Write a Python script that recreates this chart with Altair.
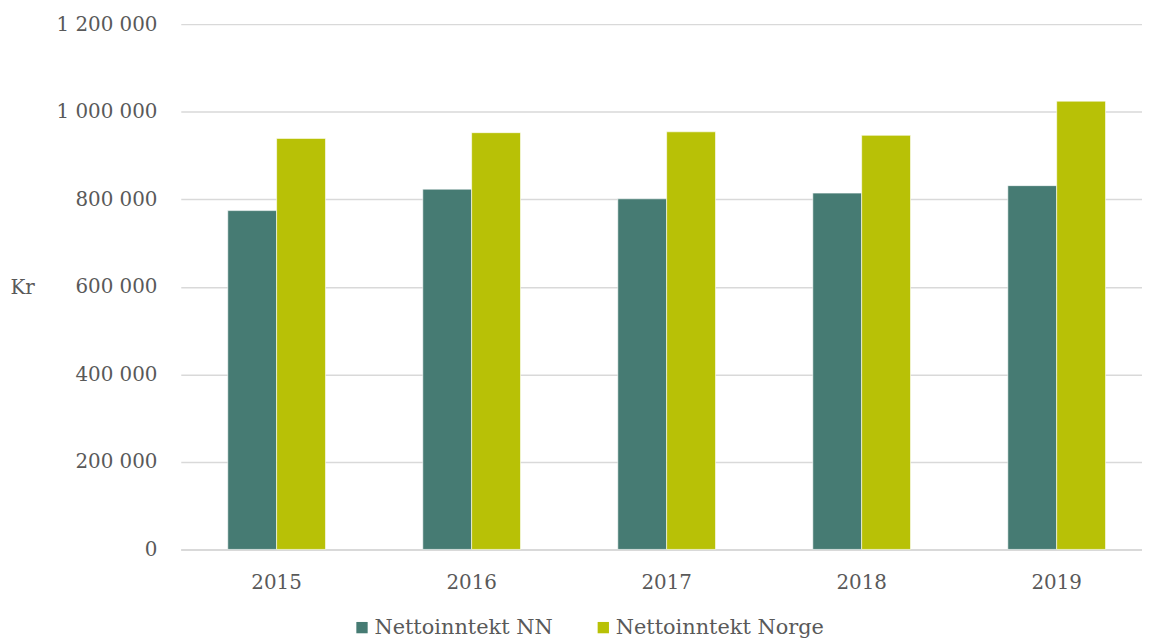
import altair as alt
import pandas as pd

years = ["2015", "2016", "2017", "2018", "2019"]
series = ["Nettoinntekt NN", "Nettoinntekt Norge"]
nn_values = [774000, 823000, 801000, 814000, 831000]
norge_values = [939000, 952000, 954000, 946000, 1024000]
colors = ["#467B73", "#B8C106"]

rows = []
for i, y in enumerate(years):
    rows.append({"year": y, "series": series[0], "value": nn_values[i]})
    rows.append({"year": y, "series": series[1], "value": norge_values[i]})
df = pd.DataFrame(rows)

FONT = "DejaVu Serif"
GRAY = "#595959"

chart = alt.Chart(df).mark_bar(stroke="white", strokeWidth=0.6).encode(
    x=alt.X("year:N", sort=years,
            scale=alt.Scale(paddingInner=0.499, paddingOuter=0.214, align=0.563),
            axis=alt.Axis(title=None, labelAngle=0, ticks=False, domain=True,
                          domainColor="#D9D9D9", domainWidth=2,
                          labelFont=FONT, labelFontSize=20, labelColor=GRAY,
                          labelPadding=23)),
    xOffset=alt.XOffset("series:N", sort=series),
    y=alt.Y("value:Q",
            scale=alt.Scale(domain=[0, 1200000], nice=False),
            axis=alt.Axis(values=[0, 200000, 400000, 600000, 800000, 1000000, 1200000],
                          labelExpr="replace(format(datum.value, ','), /,/g, ' ')",
                          domain=False, ticks=False, grid=True,
                          gridColor="#D9D9D9", gridWidth=1.5,
                          labelFont=FONT, labelFontSize=20, labelColor=GRAY,
                          labelPadding=24,
                          title="Kr", titleAngle=0, titleFont=FONT,
                          titleFontSize=20, titleFontWeight="normal",
                          titleColor=GRAY, titleX=-172, titleY=265,
                          titleAlign="left", titleBaseline="middle")),
    color=alt.Color("series:N", sort=series,
                    scale=alt.Scale(domain=series, range=colors),
                    legend=alt.Legend(title=None, orient="none", direction="horizontal",
                                      legendX=172, legendY=597,
                                      symbolType="square", symbolSize=130,
                                      symbolStrokeWidth=0,
                                      labelFont=FONT, labelFontSize=21,
                                      labelColor=GRAY, labelOffset=2,
                                      labelLimit=0,
                                      columnPadding=40)),
).properties(
    width=968,
    height=529,
    autosize=alt.AutoSizeParams(type="none"),
    padding={"left": 174, "top": 14, "right": 0, "bottom": 92},
).configure_view(stroke=None)

chart.save("out.html", embed_options={"renderer": "svg", "actions": False})
